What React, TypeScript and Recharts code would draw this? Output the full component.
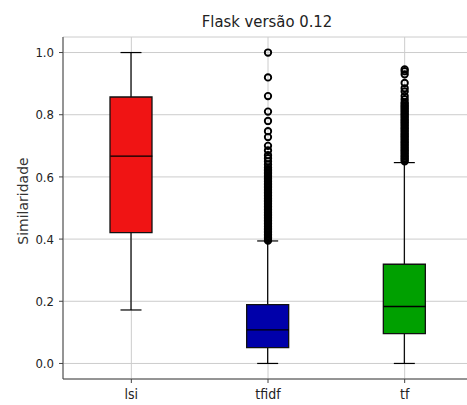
import {
  ComposedChart, Bar, Scatter, Cell, XAxis, YAxis, CartesianGrid,
} from "recharts";

const categories = ["lsi", "tfidf", "tf"];
const whiskerLow = [0.172, 0.0, 0.0];
const q1 = [0.421, 0.051, 0.096];
const median = [0.667, 0.108, 0.183];
const q3 = [0.857, 0.189, 0.319];
const whiskerHigh = [1.0, 0.394, 0.646];
const boxColors = ["#f01414", "#0000aa", "#00a000"];
const yTicks = [0, 0.2, 0.4, 0.6, 0.8, 1.0];

const tfidfOutliers = [
  0.395, 0.4, 0.405, 0.41, 0.415, 0.42, 0.425, 0.43, 0.435, 0.44,
  0.445, 0.45, 0.455, 0.46, 0.465, 0.47, 0.475, 0.48, 0.485, 0.49,
  0.495, 0.5, 0.505, 0.51, 0.515, 0.52, 0.525, 0.53, 0.535, 0.54,
  0.545, 0.55, 0.555, 0.56, 0.565, 0.57, 0.575, 0.58, 0.585, 0.59,
  0.595, 0.6, 0.605, 0.61, 0.615, 0.62, 0.625, 0.63, 0.64, 0.65,
  0.66, 0.67, 0.685, 0.7, 0.728, 0.747, 0.78, 0.81, 0.86, 0.92, 1.0,
];
const tfOutliers = [
  0.65, 0.655, 0.66, 0.665, 0.67, 0.675, 0.68, 0.685, 0.69, 0.695,
  0.7, 0.705, 0.71, 0.715, 0.72, 0.725, 0.73, 0.735, 0.74, 0.745,
  0.75, 0.755, 0.76, 0.765, 0.77, 0.775, 0.78, 0.785, 0.79, 0.795,
  0.8, 0.805, 0.81, 0.815, 0.82, 0.825, 0.83, 0.835, 0.84, 0.85,
  0.86, 0.875, 0.885, 0.902, 0.93, 0.94, 0.946,
];

const boxData = categories.map((name, i) => ({
  name,
  whisker: [whiskerLow[i], whiskerHigh[i]],
  box: [q1[i], q3[i]],
}));
const medianData = categories.map((name, i) => ({ name, value: median[i] }));
const outlierData = [
  ...tfidfOutliers.map((value) => ({ name: "tfidf", value })),
  ...tfOutliers.map((value) => ({ name: "tf", value })),
];

const WhiskerShape = (p: any) => {
  const cx = p.x + p.width / 2;
  const cap = p.width / 4;
  return (
    <g stroke="#000" strokeWidth={1.2}>
      <line x1={cx} x2={cx} y1={p.y} y2={p.y + p.height} />
      <line x1={cx - cap} x2={cx + cap} y1={p.y} y2={p.y} />
      <line x1={cx - cap} x2={cx + cap} y1={p.y + p.height} y2={p.y + p.height} />
    </g>
  );
};

const MedianShape = (p: any) => (
  <line x1={p.cx - 21} x2={p.cx + 21} y1={p.cy} y2={p.cy} stroke="#000" strokeWidth={1.4} />
);

const FlierShape = (p: any) => (
  <circle cx={p.cx} cy={p.cy} r={3.2} fill="none" stroke="#000" strokeWidth={1.9} />
);

export default function App() {
  const font = "'DejaVu Sans Condensed', 'DejaVu Sans', sans-serif";
  return (
    <div style={{ position: "absolute", left: 0, top: 0, width: 467, height: 405, overflow: "hidden", background: "#fff", fontFamily: font }}>
      <div style={{ position: "absolute", left: 0, width: 534, top: 13, lineHeight: "17px", fontSize: 16.5, textAlign: "center", color: "#222" }}>
        Flask versão 0.12
      </div>
      <div style={{ position: "absolute", left: 23, top: 201, transform: "translate(-50%, -50%) rotate(-90deg)", fontFamily: "'DejaVu Sans', sans-serif", fontSize: 14, color: "#333", whiteSpace: "nowrap" }}>
        Similaridade
      </div>
      <ComposedChart width={490} height={405} data={boxData} margin={{ top: 37, right: 17, bottom: 0, left: 0 }}>
        <CartesianGrid stroke="#cccccc" strokeWidth={1} />
        <XAxis
          dataKey="name"
          type="category"
          allowDuplicatedCategory={false}
          height={26}
          stroke="#444"
          tickSize={4}
          tickMargin={6}
          tick={{ fontSize: 14, fill: "#222", fontFamily: font }}
        />
        <XAxis xAxisId="w" dataKey="name" type="category" hide />
        <XAxis xAxisId="top" dataKey="name" type="category" orientation="top" height={0} tick={false} tickLine={false} stroke="#444" />
        <YAxis
          type="number"
          domain={[-0.05, 1.05]}
          ticks={yTicks}
          width={63}
          stroke="#444"
          tickSize={4}
          tickMargin={5}
          tickFormatter={(v: number) => v.toFixed(1)}
          tick={{ fontSize: 13, fill: "#222", fontFamily: font }}
        />
        <Bar xAxisId="w" dataKey="whisker" barSize={42} shape={WhiskerShape} isAnimationActive={false} />
        <Bar dataKey="box" barSize={42} stroke="#111" strokeWidth={1.3} isAnimationActive={false}>
          {boxData.map((d, i) => (
            <Cell key={d.name} fill={boxColors[i]} />
          ))}
        </Bar>
        <Scatter data={medianData} dataKey="value" shape={MedianShape} isAnimationActive={false} />
        <Scatter data={outlierData} dataKey="value" shape={FlierShape} isAnimationActive={false} />
      </ComposedChart>
    </div>
  );
}
